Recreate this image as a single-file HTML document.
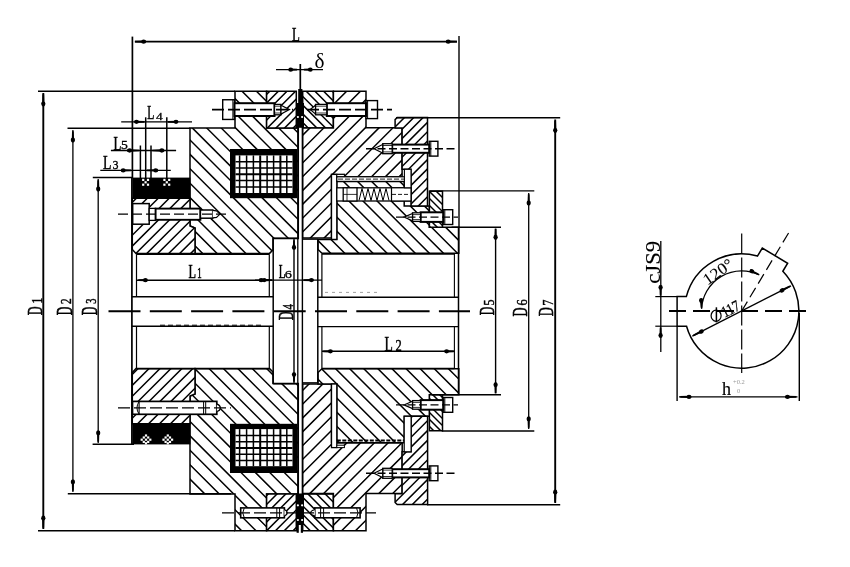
<!DOCTYPE html>
<html><head><meta charset="utf-8"><style>
html,body{margin:0;padding:0;background:#fff;}
svg{display:block;filter:grayscale(1) blur(0.3px);}
</style></head><body>
<svg width="850" height="567" viewBox="0 0 850 567">
<defs><clipPath id="c1"><polygon points="190.00,128.00 235.00,128.00 235.00,91.30 266.60,91.30 266.60,128.00 298.30,128.00 298.30,238.50 273.00,238.50 273.00,250.00 269.50,253.40 195.00,253.40 195.00,228.00 190.00,226.00"/></clipPath><clipPath id="c2"><polygon points="190.00,494.00 235.00,494.00 235.00,530.70 266.60,530.70 266.60,494.00 298.30,494.00 298.30,383.50 273.00,383.50 273.00,372.00 269.50,368.60 195.00,368.60 195.00,394.00 190.00,396.00"/></clipPath><clipPath id="c3"><polygon points="132.30,198.30 190.00,198.30 190.00,226.00 195.00,228.00 195.00,253.40 136.00,253.40 132.30,249.50"/></clipPath><clipPath id="c4"><polygon points="132.30,423.70 190.00,423.70 190.00,396.00 195.00,394.00 195.00,368.60 136.00,368.60 132.30,372.50"/></clipPath><clipPath id="c5"><polygon points="266.60,91.30 296.30,91.30 296.30,128.00 266.60,128.00"/></clipPath><clipPath id="c6"><polygon points="302.70,91.30 333.40,91.30 333.40,128.00 302.70,128.00"/></clipPath><clipPath id="c7"><polygon points="266.60,530.70 296.30,530.70 296.30,494.00 266.60,494.00"/></clipPath><clipPath id="c8"><polygon points="302.70,530.70 333.40,530.70 333.40,494.00 302.70,494.00"/></clipPath><clipPath id="c9"><polygon points="302.70,128.00 333.40,128.00 333.40,91.30 366.00,91.30 366.00,127.80 402.10,127.80 402.10,176.80 344.40,176.80 344.40,174.40 331.50,174.40 331.50,238.00 302.70,238.00"/></clipPath><clipPath id="c10"><polygon points="302.70,384.00 331.50,384.00 331.50,442.70 402.20,442.70 402.20,493.50 366.00,493.50 366.00,530.70 333.40,530.70 333.40,493.50 302.70,493.50"/></clipPath><clipPath id="c11"><polygon points="336.80,181.40 404.20,181.40 404.20,205.90 429.40,205.90 429.40,227.20 458.80,227.20 458.80,253.30 322.00,253.30 318.00,249.50 318.00,239.40 336.80,239.40"/></clipPath><clipPath id="c12"><polygon points="322.00,368.70 458.80,368.70 458.80,394.80 429.60,394.80 429.60,416.30 404.20,416.30 404.20,442.70 336.80,442.70 336.80,384.00 318.00,384.00 318.00,372.50"/></clipPath><clipPath id="c13"><polygon points="397.20,117.50 427.50,117.50 427.50,205.90 411.00,205.90 411.00,169.30 402.10,169.30 402.10,127.90 395.10,127.90 395.10,119.60"/></clipPath><clipPath id="c14"><polygon points="397.20,504.60 427.60,504.60 427.60,416.30 411.10,416.30 411.10,451.80 402.10,451.80 402.10,493.80 395.10,493.80 395.10,502.50"/></clipPath><clipPath id="c15"><polygon points="429.40,191.30 442.50,191.30 442.50,227.20 429.40,227.20"/></clipPath><clipPath id="c16"><polygon points="429.40,430.70 442.50,430.70 442.50,394.80 429.40,394.80"/></clipPath></defs>
<rect width="850" height="567" fill="#fff"/>
<polygon points="190.00,128.00 235.00,128.00 235.00,91.30 266.60,91.30 266.60,128.00 298.30,128.00 298.30,238.50 273.00,238.50 273.00,250.00 269.50,253.40 195.00,253.40 195.00,228.00 190.00,226.00" fill="#fff"/>
<path d="M9.70,89.30L175.80,255.40M24.10,89.30L190.20,255.40M38.50,89.30L204.60,255.40M52.90,89.30L219.00,255.40M67.30,89.30L233.40,255.40M81.70,89.30L247.80,255.40M96.10,89.30L262.20,255.40M110.50,89.30L276.60,255.40M124.90,89.30L291.00,255.40M139.30,89.30L305.40,255.40M153.70,89.30L319.80,255.40M168.10,89.30L334.20,255.40M182.50,89.30L348.60,255.40M196.90,89.30L363.00,255.40M211.30,89.30L377.40,255.40M225.70,89.30L391.80,255.40M240.10,89.30L406.20,255.40M254.50,89.30L420.60,255.40M268.90,89.30L435.00,255.40M283.30,89.30L449.40,255.40M297.70,89.30L463.80,255.40" stroke="#000" stroke-width="1.5" fill="none" clip-path="url(#c1)"/>
<polygon points="190.00,128.00 235.00,128.00 235.00,91.30 266.60,91.30 266.60,128.00 298.30,128.00 298.30,238.50 273.00,238.50 273.00,250.00 269.50,253.40 195.00,253.40 195.00,228.00 190.00,226.00" fill="none" stroke="#000" stroke-width="1.5"/>
<polygon points="190.00,494.00 235.00,494.00 235.00,530.70 266.60,530.70 266.60,494.00 298.30,494.00 298.30,383.50 273.00,383.50 273.00,372.00 269.50,368.60 195.00,368.60 195.00,394.00 190.00,396.00" fill="#fff"/>
<path d="M19.90,366.60L186.00,532.70M34.30,366.60L200.40,532.70M48.70,366.60L214.80,532.70M63.10,366.60L229.20,532.70M77.50,366.60L243.60,532.70M91.90,366.60L258.00,532.70M106.30,366.60L272.40,532.70M120.70,366.60L286.80,532.70M135.10,366.60L301.20,532.70M149.50,366.60L315.60,532.70M163.90,366.60L330.00,532.70M178.30,366.60L344.40,532.70M192.70,366.60L358.80,532.70M207.10,366.60L373.20,532.70M221.50,366.60L387.60,532.70M235.90,366.60L402.00,532.70M250.30,366.60L416.40,532.70M264.70,366.60L430.80,532.70M279.10,366.60L445.20,532.70M293.50,366.60L459.60,532.70" stroke="#000" stroke-width="1.5" fill="none" clip-path="url(#c2)"/>
<polygon points="190.00,494.00 235.00,494.00 235.00,530.70 266.60,530.70 266.60,494.00 298.30,494.00 298.30,383.50 273.00,383.50 273.00,372.00 269.50,368.60 195.00,368.60 195.00,394.00 190.00,396.00" fill="none" stroke="#000" stroke-width="1.5"/>
<polygon points="132.30,198.30 190.00,198.30 190.00,226.00 195.00,228.00 195.00,253.40 136.00,253.40 132.30,249.50" fill="#fff"/>
<path d="M127.35,196.30L68.25,255.40M138.30,196.30L79.20,255.40M149.25,196.30L90.15,255.40M160.20,196.30L101.10,255.40M171.15,196.30L112.05,255.40M182.10,196.30L123.00,255.40M193.05,196.30L133.95,255.40M204.00,196.30L144.90,255.40M214.95,196.30L155.85,255.40M225.90,196.30L166.80,255.40M236.85,196.30L177.75,255.40M247.80,196.30L188.70,255.40" stroke="#000" stroke-width="1.5" fill="none" clip-path="url(#c3)"/>
<polygon points="132.30,198.30 190.00,198.30 190.00,226.00 195.00,228.00 195.00,253.40 136.00,253.40 132.30,249.50" fill="none" stroke="#000" stroke-width="1.5"/>
<polygon points="132.30,423.70 190.00,423.70 190.00,396.00 195.00,394.00 195.00,368.60 136.00,368.60 132.30,372.50" fill="#fff"/>
<path d="M129.10,366.60L70.00,425.70M140.05,366.60L80.95,425.70M151.00,366.60L91.90,425.70M161.95,366.60L102.85,425.70M172.90,366.60L113.80,425.70M183.85,366.60L124.75,425.70M194.80,366.60L135.70,425.70M205.75,366.60L146.65,425.70M216.70,366.60L157.60,425.70M227.65,366.60L168.55,425.70M238.60,366.60L179.50,425.70M249.55,366.60L190.45,425.70" stroke="#000" stroke-width="1.5" fill="none" clip-path="url(#c4)"/>
<polygon points="132.30,423.70 190.00,423.70 190.00,396.00 195.00,394.00 195.00,368.60 136.00,368.60 132.30,372.50" fill="none" stroke="#000" stroke-width="1.5"/>
<polygon points="266.60,91.30 296.30,91.30 296.30,128.00 266.60,128.00" fill="#fff"/>
<path d="M263.10,89.30L222.40,130.00M271.70,89.30L231.00,130.00M280.30,89.30L239.60,130.00M288.90,89.30L248.20,130.00M297.50,89.30L256.80,130.00M306.10,89.30L265.40,130.00M314.70,89.30L274.00,130.00M323.30,89.30L282.60,130.00M331.90,89.30L291.20,130.00" stroke="#000" stroke-width="1.5" fill="none" clip-path="url(#c5)"/>
<polygon points="266.60,91.30 296.30,91.30 296.30,128.00 266.60,128.00" fill="none" stroke="#000" stroke-width="1.5"/>
<polygon points="302.70,91.30 333.40,91.30 333.40,128.00 302.70,128.00" fill="#fff"/>
<path d="M252.10,89.30L292.80,130.00M260.80,89.30L301.50,130.00M269.50,89.30L310.20,130.00M278.20,89.30L318.90,130.00M286.90,89.30L327.60,130.00M295.60,89.30L336.30,130.00M304.30,89.30L345.00,130.00M313.00,89.30L353.70,130.00M321.70,89.30L362.40,130.00M330.40,89.30L371.10,130.00" stroke="#000" stroke-width="1.5" fill="none" clip-path="url(#c6)"/>
<polygon points="302.70,91.30 333.40,91.30 333.40,128.00 302.70,128.00" fill="none" stroke="#000" stroke-width="1.5"/>
<polygon points="266.60,530.70 296.30,530.70 296.30,494.00 266.60,494.00" fill="#fff"/>
<path d="M261.40,492.00L220.70,532.70M270.20,492.00L229.50,532.70M279.00,492.00L238.30,532.70M287.80,492.00L247.10,532.70M296.60,492.00L255.90,532.70M305.40,492.00L264.70,532.70M314.20,492.00L273.50,532.70M323.00,492.00L282.30,532.70M331.80,492.00L291.10,532.70" stroke="#000" stroke-width="1.5" fill="none" clip-path="url(#c7)"/>
<polygon points="266.60,530.70 296.30,530.70 296.30,494.00 266.60,494.00" fill="none" stroke="#000" stroke-width="1.5"/>
<polygon points="302.70,530.70 333.40,530.70 333.40,494.00 302.70,494.00" fill="#fff"/>
<path d="M254.40,492.00L295.10,532.70M263.00,492.00L303.70,532.70M271.60,492.00L312.30,532.70M280.20,492.00L320.90,532.70M288.80,492.00L329.50,532.70M297.40,492.00L338.10,532.70M306.00,492.00L346.70,532.70M314.60,492.00L355.30,532.70M323.20,492.00L363.90,532.70M331.80,492.00L372.50,532.70" stroke="#000" stroke-width="1.5" fill="none" clip-path="url(#c8)"/>
<polygon points="302.70,530.70 333.40,530.70 333.40,494.00 302.70,494.00" fill="none" stroke="#000" stroke-width="1.5"/>
<polygon points="302.70,128.00 333.40,128.00 333.40,91.30 366.00,91.30 366.00,127.80 402.10,127.80 402.10,176.80 344.40,176.80 344.40,174.40 331.50,174.40 331.50,238.00 302.70,238.00" fill="#fff"/>
<path d="M293.40,89.30L142.70,240.00M307.20,89.30L156.50,240.00M321.00,89.30L170.30,240.00M334.80,89.30L184.10,240.00M348.60,89.30L197.90,240.00M362.40,89.30L211.70,240.00M376.20,89.30L225.50,240.00M390.00,89.30L239.30,240.00M403.80,89.30L253.10,240.00M417.60,89.30L266.90,240.00M431.40,89.30L280.70,240.00M445.20,89.30L294.50,240.00M459.00,89.30L308.30,240.00M472.80,89.30L322.10,240.00M486.60,89.30L335.90,240.00M500.40,89.30L349.70,240.00M514.20,89.30L363.50,240.00M528.00,89.30L377.30,240.00M541.80,89.30L391.10,240.00" stroke="#000" stroke-width="1.5" fill="none" clip-path="url(#c9)"/>
<polygon points="302.70,128.00 333.40,128.00 333.40,91.30 366.00,91.30 366.00,127.80 402.10,127.80 402.10,176.80 344.40,176.80 344.40,174.40 331.50,174.40 331.50,238.00 302.70,238.00" fill="none" stroke="#000" stroke-width="1.5"/>
<polygon points="302.70,384.00 331.50,384.00 331.50,442.70 402.20,442.70 402.20,493.50 366.00,493.50 366.00,530.70 333.40,530.70 333.40,493.50 302.70,493.50" fill="#fff"/>
<path d="M297.20,382.00L146.50,532.70M311.00,382.00L160.30,532.70M324.80,382.00L174.10,532.70M338.60,382.00L187.90,532.70M352.40,382.00L201.70,532.70M366.20,382.00L215.50,532.70M380.00,382.00L229.30,532.70M393.80,382.00L243.10,532.70M407.60,382.00L256.90,532.70M421.40,382.00L270.70,532.70M435.20,382.00L284.50,532.70M449.00,382.00L298.30,532.70M462.80,382.00L312.10,532.70M476.60,382.00L325.90,532.70M490.40,382.00L339.70,532.70M504.20,382.00L353.50,532.70M518.00,382.00L367.30,532.70M531.80,382.00L381.10,532.70M545.60,382.00L394.90,532.70" stroke="#000" stroke-width="1.5" fill="none" clip-path="url(#c10)"/>
<polygon points="302.70,384.00 331.50,384.00 331.50,442.70 402.20,442.70 402.20,493.50 366.00,493.50 366.00,530.70 333.40,530.70 333.40,493.50 302.70,493.50" fill="none" stroke="#000" stroke-width="1.5"/>
<polygon points="336.80,181.40 404.20,181.40 404.20,205.90 429.40,205.90 429.40,227.20 458.80,227.20 458.80,253.30 322.00,253.30 318.00,249.50 318.00,239.40 336.80,239.40" fill="#fff"/>
<path d="M228.60,179.40L304.50,255.30M242.70,179.40L318.60,255.30M256.80,179.40L332.70,255.30M270.90,179.40L346.80,255.30M285.00,179.40L360.90,255.30M299.10,179.40L375.00,255.30M313.20,179.40L389.10,255.30M327.30,179.40L403.20,255.30M341.40,179.40L417.30,255.30M355.50,179.40L431.40,255.30M369.60,179.40L445.50,255.30M383.70,179.40L459.60,255.30M397.80,179.40L473.70,255.30M411.90,179.40L487.80,255.30M426.00,179.40L501.90,255.30M440.10,179.40L516.00,255.30M454.20,179.40L530.10,255.30" stroke="#000" stroke-width="1.5" fill="none" clip-path="url(#c11)"/>
<polygon points="336.80,181.40 404.20,181.40 404.20,205.90 429.40,205.90 429.40,227.20 458.80,227.20 458.80,253.30 322.00,253.30 318.00,249.50 318.00,239.40 336.80,239.40" fill="none" stroke="#000" stroke-width="1.5"/>
<polygon points="322.00,368.70 458.80,368.70 458.80,394.80 429.60,394.80 429.60,416.30 404.20,416.30 404.20,442.70 336.80,442.70 336.80,384.00 318.00,384.00 318.00,372.50" fill="#fff"/>
<path d="M234.90,366.70L312.90,444.70M249.00,366.70L327.00,444.70M263.10,366.70L341.10,444.70M277.20,366.70L355.20,444.70M291.30,366.70L369.30,444.70M305.40,366.70L383.40,444.70M319.50,366.70L397.50,444.70M333.60,366.70L411.60,444.70M347.70,366.70L425.70,444.70M361.80,366.70L439.80,444.70M375.90,366.70L453.90,444.70M390.00,366.70L468.00,444.70M404.10,366.70L482.10,444.70M418.20,366.70L496.20,444.70M432.30,366.70L510.30,444.70M446.40,366.70L524.40,444.70M460.50,366.70L538.50,444.70" stroke="#000" stroke-width="1.5" fill="none" clip-path="url(#c12)"/>
<polygon points="322.00,368.70 458.80,368.70 458.80,394.80 429.60,394.80 429.60,416.30 404.20,416.30 404.20,442.70 336.80,442.70 336.80,384.00 318.00,384.00 318.00,372.50" fill="none" stroke="#000" stroke-width="1.5"/>
<polygon points="397.20,117.50 427.50,117.50 427.50,205.90 411.00,205.90 411.00,169.30 402.10,169.30 402.10,127.90 395.10,127.90 395.10,119.60" fill="#fff"/>
<path d="M387.90,115.50L295.50,207.90M397.20,115.50L304.80,207.90M406.50,115.50L314.10,207.90M415.80,115.50L323.40,207.90M425.10,115.50L332.70,207.90M434.40,115.50L342.00,207.90M443.70,115.50L351.30,207.90M453.00,115.50L360.60,207.90M462.30,115.50L369.90,207.90M471.60,115.50L379.20,207.90M480.90,115.50L388.50,207.90M490.20,115.50L397.80,207.90M499.50,115.50L407.10,207.90M508.80,115.50L416.40,207.90M518.10,115.50L425.70,207.90" stroke="#000" stroke-width="1.5" fill="none" clip-path="url(#c13)"/>
<polygon points="397.20,117.50 427.50,117.50 427.50,205.90 411.00,205.90 411.00,169.30 402.10,169.30 402.10,127.90 395.10,127.90 395.10,119.60" fill="none" stroke="#000" stroke-width="1.5"/>
<polygon points="397.20,504.60 427.60,504.60 427.60,416.30 411.10,416.30 411.10,451.80 402.10,451.80 402.10,493.80 395.10,493.80 395.10,502.50" fill="#fff"/>
<path d="M385.00,414.30L292.70,506.60M394.80,414.30L302.50,506.60M404.60,414.30L312.30,506.60M414.40,414.30L322.10,506.60M424.20,414.30L331.90,506.60M434.00,414.30L341.70,506.60M443.80,414.30L351.50,506.60M453.60,414.30L361.30,506.60M463.40,414.30L371.10,506.60M473.20,414.30L380.90,506.60M483.00,414.30L390.70,506.60M492.80,414.30L400.50,506.60M502.60,414.30L410.30,506.60M512.40,414.30L420.10,506.60" stroke="#000" stroke-width="1.5" fill="none" clip-path="url(#c14)"/>
<polygon points="397.20,504.60 427.60,504.60 427.60,416.30 411.10,416.30 411.10,451.80 402.10,451.80 402.10,493.80 395.10,493.80 395.10,502.50" fill="none" stroke="#000" stroke-width="1.5"/>
<polygon points="429.40,191.30 442.50,191.30 442.50,227.20 429.40,227.20" fill="#fff"/>
<path d="M385.30,189.30L425.20,229.20M392.30,189.30L432.20,229.20M399.30,189.30L439.20,229.20M406.30,189.30L446.20,229.20M413.30,189.30L453.20,229.20M420.30,189.30L460.20,229.20M427.30,189.30L467.20,229.20M434.30,189.30L474.20,229.20M441.30,189.30L481.20,229.20" stroke="#000" stroke-width="1.5" fill="none" clip-path="url(#c15)"/>
<polygon points="429.40,191.30 442.50,191.30 442.50,227.20 429.40,227.20" fill="none" stroke="#000" stroke-width="1.5"/>
<polygon points="429.40,430.70 442.50,430.70 442.50,394.80 429.40,394.80" fill="#fff"/>
<path d="M381.80,392.80L421.70,432.70M388.80,392.80L428.70,432.70M395.80,392.80L435.70,432.70M402.80,392.80L442.70,432.70M409.80,392.80L449.70,432.70M416.80,392.80L456.70,432.70M423.80,392.80L463.70,432.70M430.80,392.80L470.70,432.70M437.80,392.80L477.70,432.70" stroke="#000" stroke-width="1.5" fill="none" clip-path="url(#c16)"/>
<polygon points="429.40,430.70 442.50,430.70 442.50,394.80 429.40,394.80" fill="none" stroke="#000" stroke-width="1.5"/>
<rect x="132.80" y="178.00" width="57.20" height="20.30" fill="#000" stroke="#000" stroke-width="0.8" />
<rect x="142.10" y="178.80" width="2.2" height="2.2" fill="#fff"/>
<rect x="146.90" y="178.80" width="2.2" height="2.2" fill="#fff"/>
<rect x="144.50" y="181.20" width="2.2" height="2.2" fill="#fff"/>
<rect x="142.10" y="183.60" width="2.2" height="2.2" fill="#fff"/>
<rect x="146.90" y="183.60" width="2.2" height="2.2" fill="#fff"/>
<rect x="163.30" y="178.80" width="2.2" height="2.2" fill="#fff"/>
<rect x="168.10" y="178.80" width="2.2" height="2.2" fill="#fff"/>
<rect x="165.70" y="181.20" width="2.2" height="2.2" fill="#fff"/>
<rect x="163.30" y="183.60" width="2.2" height="2.2" fill="#fff"/>
<rect x="168.10" y="183.60" width="2.2" height="2.2" fill="#fff"/>
<rect x="132.80" y="423.70" width="57.20" height="20.30" fill="#000" stroke="#000" stroke-width="0.8" />
<rect x="142.70" y="436.40" width="2.2" height="2.2" fill="#fff"/>
<rect x="147.10" y="436.40" width="2.2" height="2.2" fill="#fff"/>
<rect x="144.90" y="438.60" width="2.2" height="2.2" fill="#fff"/>
<rect x="142.70" y="440.80" width="2.2" height="2.2" fill="#fff"/>
<rect x="147.10" y="440.80" width="2.2" height="2.2" fill="#fff"/>
<rect x="140.60" y="438.60" width="2.2" height="2.2" fill="#fff"/>
<rect x="149.20" y="438.60" width="2.2" height="2.2" fill="#fff"/>
<rect x="144.90" y="434.40" width="2.2" height="2.2" fill="#fff"/>
<rect x="144.90" y="442.20" width="2.2" height="2.2" fill="#fff"/>
<rect x="164.50" y="436.40" width="2.2" height="2.2" fill="#fff"/>
<rect x="168.90" y="436.40" width="2.2" height="2.2" fill="#fff"/>
<rect x="166.70" y="438.60" width="2.2" height="2.2" fill="#fff"/>
<rect x="164.50" y="440.80" width="2.2" height="2.2" fill="#fff"/>
<rect x="168.90" y="440.80" width="2.2" height="2.2" fill="#fff"/>
<rect x="162.40" y="438.60" width="2.2" height="2.2" fill="#fff"/>
<rect x="171.00" y="438.60" width="2.2" height="2.2" fill="#fff"/>
<rect x="166.70" y="434.40" width="2.2" height="2.2" fill="#fff"/>
<rect x="166.70" y="442.20" width="2.2" height="2.2" fill="#fff"/>
<rect x="230.00" y="149.00" width="67.20" height="49.20" fill="#000" stroke="#000" stroke-width="0" />
<rect x="235.50" y="155.40" width="57.00" height="37.60" fill="#fff" stroke="#000" stroke-width="0" />
<line x1="239.60" y1="155.40" x2="239.60" y2="193.00" stroke="#000" stroke-width="1.5" />
<line x1="246.60" y1="155.40" x2="246.60" y2="193.00" stroke="#000" stroke-width="1.5" />
<line x1="253.40" y1="155.40" x2="253.40" y2="193.00" stroke="#000" stroke-width="1.5" />
<line x1="260.20" y1="155.40" x2="260.20" y2="193.00" stroke="#000" stroke-width="2.0" />
<line x1="267.10" y1="155.40" x2="267.10" y2="193.00" stroke="#000" stroke-width="1.5" />
<line x1="273.60" y1="155.40" x2="273.60" y2="193.00" stroke="#000" stroke-width="1.5" />
<line x1="280.40" y1="155.40" x2="280.40" y2="193.00" stroke="#000" stroke-width="2.0" />
<line x1="286.80" y1="155.40" x2="286.80" y2="193.00" stroke="#000" stroke-width="1.5" />
<line x1="235.50" y1="161.70" x2="292.50" y2="161.70" stroke="#000" stroke-width="1.5" />
<line x1="235.50" y1="168.00" x2="292.50" y2="168.00" stroke="#000" stroke-width="1.5" />
<line x1="235.50" y1="174.30" x2="292.50" y2="174.30" stroke="#000" stroke-width="1.9" />
<line x1="235.50" y1="180.60" x2="292.50" y2="180.60" stroke="#000" stroke-width="1.5" />
<line x1="235.50" y1="186.90" x2="292.50" y2="186.90" stroke="#000" stroke-width="1.5" />
<rect x="230.00" y="423.80" width="67.20" height="49.20" fill="#000" stroke="#000" stroke-width="0" />
<rect x="235.50" y="429.10" width="57.00" height="37.10" fill="#fff" stroke="#000" stroke-width="0" />
<line x1="239.60" y1="429.10" x2="239.60" y2="466.20" stroke="#000" stroke-width="1.5" />
<line x1="246.60" y1="429.10" x2="246.60" y2="466.20" stroke="#000" stroke-width="1.5" />
<line x1="253.40" y1="429.10" x2="253.40" y2="466.20" stroke="#000" stroke-width="1.5" />
<line x1="260.20" y1="429.10" x2="260.20" y2="466.20" stroke="#000" stroke-width="2.0" />
<line x1="267.10" y1="429.10" x2="267.10" y2="466.20" stroke="#000" stroke-width="1.5" />
<line x1="273.60" y1="429.10" x2="273.60" y2="466.20" stroke="#000" stroke-width="1.5" />
<line x1="280.40" y1="429.10" x2="280.40" y2="466.20" stroke="#000" stroke-width="2.0" />
<line x1="286.80" y1="429.10" x2="286.80" y2="466.20" stroke="#000" stroke-width="1.5" />
<line x1="235.50" y1="435.40" x2="292.50" y2="435.40" stroke="#000" stroke-width="1.5" />
<line x1="235.50" y1="441.70" x2="292.50" y2="441.70" stroke="#000" stroke-width="1.5" />
<line x1="235.50" y1="448.00" x2="292.50" y2="448.00" stroke="#000" stroke-width="1.9" />
<line x1="235.50" y1="454.30" x2="292.50" y2="454.30" stroke="#000" stroke-width="1.5" />
<line x1="235.50" y1="460.60" x2="292.50" y2="460.60" stroke="#000" stroke-width="1.5" />
<line x1="297.80" y1="127.00" x2="297.80" y2="494.00" stroke="#000" stroke-width="1.3" />
<line x1="302.40" y1="127.00" x2="302.40" y2="494.00" stroke="#000" stroke-width="1.4" />
<rect x="298.20" y="89.00" width="4.20" height="14.50" fill="#000" stroke="#000" stroke-width="0" />
<rect x="296.10" y="103.00" width="7.90" height="24.80" fill="#000" stroke="#000" stroke-width="0" />
<rect x="296.10" y="493.50" width="7.90" height="31.50" fill="#000" stroke="#000" stroke-width="0" />
<rect x="296.60" y="524.00" width="2.20" height="8.80" fill="#000" stroke="#000" stroke-width="0" />
<rect x="300.80" y="524.00" width="2.20" height="8.80" fill="#000" stroke="#000" stroke-width="0" />
<circle cx="297.9" cy="117" r="1.1" fill="#fff"/>
<circle cx="302.1" cy="117" r="1.1" fill="#fff"/>
<circle cx="297.9" cy="505.3" r="1.1" fill="#fff"/>
<circle cx="302.1" cy="505.3" r="1.1" fill="#fff"/>
<circle cx="297.9" cy="520" r="1.1" fill="#fff"/>
<circle cx="302.1" cy="520" r="1.1" fill="#fff"/>
<line x1="300.30" y1="64.00" x2="300.30" y2="89.00" stroke="#000" stroke-width="1.7" />
<rect x="222.70" y="99.75" width="11.80" height="19.70" fill="#fff" stroke="#000" stroke-width="1.4" />
<line x1="232.90" y1="99.75" x2="232.90" y2="119.45" stroke="#000" stroke-width="1.0" />
<rect x="234.50" y="103.20" width="40.00" height="12.80" fill="#fff" stroke="#000" stroke-width="2.0" />
<rect x="274.50" y="104.40" width="6.50" height="10.40" fill="#fff" stroke="#000" stroke-width="1.3" />
<line x1="274.50" y1="106.20" x2="281.00" y2="106.20" stroke="#000" stroke-width="0.8" />
<line x1="274.50" y1="113.00" x2="281.00" y2="113.00" stroke="#000" stroke-width="0.8" />
<polygon points="281.00,105.18 289.50,109.60 281.00,114.02" fill="#fff" stroke="#000" stroke-width="1.2"/>
<rect x="366.00" y="100.60" width="11.50" height="18.00" fill="#fff" stroke="#000" stroke-width="1.4" />
<line x1="367.60" y1="100.60" x2="367.60" y2="118.60" stroke="#000" stroke-width="1.0" />
<rect x="326.80" y="103.20" width="39.20" height="12.80" fill="#fff" stroke="#000" stroke-width="2.0" />
<rect x="315.50" y="104.40" width="11.30" height="10.40" fill="#fff" stroke="#000" stroke-width="1.3" />
<line x1="326.80" y1="106.20" x2="315.50" y2="106.20" stroke="#000" stroke-width="0.8" />
<line x1="326.80" y1="113.00" x2="315.50" y2="113.00" stroke="#000" stroke-width="0.8" />
<polygon points="315.50,105.18 310.20,109.60 315.50,114.02" fill="#fff" stroke="#000" stroke-width="1.2"/>
<line x1="212.00" y1="109.60" x2="293.00" y2="109.60" stroke="#000" stroke-width="1.7" stroke-dasharray="12,4"/>
<line x1="307.00" y1="109.60" x2="392.00" y2="109.60" stroke="#000" stroke-width="1.7" stroke-dasharray="12,4"/>
<rect x="132.70" y="203.60" width="16.50" height="20.60" fill="#fff" stroke="#000" stroke-width="1.5" />
<rect x="149.20" y="208.40" width="6.40" height="12.00" fill="#fff" stroke="#000" stroke-width="1.3" />
<rect x="155.60" y="208.60" width="44.80" height="11.20" fill="#fff" stroke="#000" stroke-width="1.9" />
<rect x="200.40" y="210.00" width="12.30" height="8.20" fill="#fff" stroke="#000" stroke-width="1.5" />
<path d="M212.7,210.4 L216.5,210.8 L220,214.1 L216.5,217.4 L212.7,217.8" fill="#fff" stroke="#000" stroke-width="1.2"/>
<line x1="118.00" y1="214.10" x2="226.00" y2="214.10" stroke="#000" stroke-width="1.4" stroke-dasharray="10,4"/>
<rect x="429.20" y="141.30" width="8.70" height="14.80" fill="#fff" stroke="#000" stroke-width="1.4" />
<line x1="430.80" y1="141.30" x2="430.80" y2="156.10" stroke="#000" stroke-width="1.0" />
<rect x="392.20" y="144.60" width="37.00" height="8.20" fill="#fff" stroke="#000" stroke-width="2.0" />
<rect x="382.70" y="143.70" width="9.50" height="10.00" fill="#fff" stroke="#000" stroke-width="1.3" />
<line x1="392.20" y1="145.50" x2="382.70" y2="145.50" stroke="#000" stroke-width="0.8" />
<line x1="392.20" y1="151.90" x2="382.70" y2="151.90" stroke="#000" stroke-width="0.8" />
<polygon points="382.70,144.45 374.00,148.70 382.70,152.95" fill="#fff" stroke="#000" stroke-width="1.2"/>
<line x1="366.00" y1="148.70" x2="458.00" y2="148.70" stroke="#000" stroke-width="1.4" stroke-dasharray="8,3.5"/>
<rect x="443.20" y="209.70" width="9.50" height="14.80" fill="#fff" stroke="#000" stroke-width="1.4" />
<line x1="444.80" y1="209.70" x2="444.80" y2="224.50" stroke="#000" stroke-width="1.0" />
<rect x="420.60" y="212.30" width="22.60" height="9.60" fill="#fff" stroke="#000" stroke-width="2.0" />
<rect x="412.50" y="212.80" width="8.10" height="8.60" fill="#fff" stroke="#000" stroke-width="1.3" />
<line x1="420.60" y1="214.60" x2="412.50" y2="214.60" stroke="#000" stroke-width="0.8" />
<line x1="420.60" y1="219.60" x2="412.50" y2="219.60" stroke="#000" stroke-width="0.8" />
<polygon points="412.50,213.44 404.00,217.10 412.50,220.75" fill="#fff" stroke="#000" stroke-width="1.2"/>
<line x1="396.00" y1="217.10" x2="458.00" y2="217.10" stroke="#000" stroke-width="1.4" stroke-dasharray="8,3.5"/>
<rect x="429.20" y="465.90" width="8.70" height="14.80" fill="#fff" stroke="#000" stroke-width="1.4" />
<line x1="430.80" y1="465.90" x2="430.80" y2="480.70" stroke="#000" stroke-width="1.0" />
<rect x="392.20" y="469.20" width="37.00" height="8.20" fill="#fff" stroke="#000" stroke-width="2.0" />
<rect x="382.70" y="468.30" width="9.50" height="10.00" fill="#fff" stroke="#000" stroke-width="1.3" />
<line x1="392.20" y1="470.10" x2="382.70" y2="470.10" stroke="#000" stroke-width="0.8" />
<line x1="392.20" y1="476.50" x2="382.70" y2="476.50" stroke="#000" stroke-width="0.8" />
<polygon points="382.70,469.05 374.00,473.30 382.70,477.55" fill="#fff" stroke="#000" stroke-width="1.2"/>
<line x1="366.00" y1="473.30" x2="458.00" y2="473.30" stroke="#000" stroke-width="1.4" stroke-dasharray="8,3.5"/>
<rect x="443.20" y="397.50" width="9.50" height="14.80" fill="#fff" stroke="#000" stroke-width="1.4" />
<line x1="444.80" y1="397.50" x2="444.80" y2="412.30" stroke="#000" stroke-width="1.0" />
<rect x="420.60" y="400.10" width="22.60" height="9.60" fill="#fff" stroke="#000" stroke-width="2.0" />
<rect x="412.50" y="400.60" width="8.10" height="8.60" fill="#fff" stroke="#000" stroke-width="1.3" />
<line x1="420.60" y1="402.40" x2="412.50" y2="402.40" stroke="#000" stroke-width="0.8" />
<line x1="420.60" y1="407.40" x2="412.50" y2="407.40" stroke="#000" stroke-width="0.8" />
<polygon points="412.50,401.25 404.00,404.90 412.50,408.55" fill="#fff" stroke="#000" stroke-width="1.2"/>
<line x1="396.00" y1="404.90" x2="458.00" y2="404.90" stroke="#000" stroke-width="1.4" stroke-dasharray="8,3.5"/>
<rect x="132.50" y="401.40" width="84.30" height="12.90" fill="#fff" stroke="#000" stroke-width="1.7" />
<path d="M139.1,401.6 Q134.8,407.85 139.1,414.1" fill="none" stroke="#000" stroke-width="1.0"/>
<line x1="139.10" y1="401.40" x2="139.10" y2="414.30" stroke="#000" stroke-width="1.1" />
<line x1="203.60" y1="401.40" x2="203.60" y2="414.30" stroke="#000" stroke-width="1.0" />
<line x1="205.70" y1="401.40" x2="205.70" y2="414.30" stroke="#000" stroke-width="1.0" />
<path d="M216.8,404.2 Q220.2,405 220.4,407.85 Q220.2,410.7 216.8,411.5" fill="#fff" stroke="#000" stroke-width="1.2"/>
<line x1="118.00" y1="407.85" x2="231.00" y2="407.85" stroke="#000" stroke-width="1.3" stroke-dasharray="12,4"/>
<rect x="240.70" y="507.90" width="43.70" height="9.90" fill="#fff" stroke="#000" stroke-width="1.6" />
<path d="M284.40,509.78 Q287.20,510.70 287.20,512.85 Q287.20,515.00 284.40,515.92" fill="#fff" stroke="#000" stroke-width="1.2"/>
<line x1="276.80" y1="507.90" x2="276.80" y2="517.80" stroke="#000" stroke-width="1.0" />
<line x1="279.60" y1="507.90" x2="279.60" y2="517.80" stroke="#000" stroke-width="1.0" />
<path d="M244.20,508.20 Q241.30,512.85 244.20,517.50" fill="none" stroke="#000" stroke-width="1.0"/>
<rect x="314.80" y="507.90" width="45.30" height="9.90" fill="#fff" stroke="#000" stroke-width="1.6" />
<path d="M314.80,509.78 Q310.60,510.70 310.60,512.85 Q310.60,515.00 314.80,515.92" fill="#fff" stroke="#000" stroke-width="1.2"/>
<line x1="320.60" y1="507.90" x2="320.60" y2="517.80" stroke="#000" stroke-width="1.0" />
<line x1="323.60" y1="507.90" x2="323.60" y2="517.80" stroke="#000" stroke-width="1.0" />
<path d="M356.60,508.20 Q359.50,512.85 356.60,517.50" fill="none" stroke="#000" stroke-width="1.0"/>
<line x1="222.00" y1="512.85" x2="376.00" y2="512.85" stroke="#000" stroke-width="1.3" stroke-dasharray="12,4"/>
<rect x="331.50" y="174.40" width="5.30" height="65.00" fill="#fff" stroke="#000" stroke-width="1.3" />
<rect x="336.80" y="174.40" width="7.60" height="2.40" fill="#fff" stroke="#000" stroke-width="1.0" />
<rect x="336.80" y="176.80" width="68.20" height="4.60" fill="#fff" stroke="#000" stroke-width="1.2" />
<line x1="338.00" y1="179.10" x2="404.00" y2="179.10" stroke="#000" stroke-width="0.9" stroke-dasharray="5,2"/>
<rect x="336.80" y="187.80" width="74.20" height="13.20" fill="#fff" stroke="#000" stroke-width="1.3" />
<rect x="343.20" y="187.80" width="13.80" height="13.20" fill="#fff" stroke="#000" stroke-width="1.3" />
<line x1="347.00" y1="187.80" x2="347.00" y2="201.00" stroke="#000" stroke-width="0.8" />
<line x1="343.20" y1="194.40" x2="357.00" y2="194.40" stroke="#000" stroke-width="0.8" />
<polyline points="359.00,200.50 362.00,188.50 365.00,200.50 368.00,188.50 371.00,200.50 374.00,188.50 377.00,200.50 380.00,188.50 383.00,200.50 386.00,188.50 389.00,200.50" fill="none" stroke="#000" stroke-width="1.0" />
<rect x="391.50" y="187.80" width="19.50" height="13.20" fill="#fff" stroke="#000" stroke-width="1.2" />
<line x1="392.00" y1="194.40" x2="410.00" y2="194.40" stroke="#000" stroke-width="0.9" stroke-dasharray="4,2"/>
<rect x="404.40" y="169.30" width="6.60" height="18.50" fill="#fff" stroke="#000" stroke-width="1.1" />
<rect x="331.50" y="384.00" width="5.30" height="63.60" fill="#fff" stroke="#000" stroke-width="1.3" />
<rect x="336.80" y="445.20" width="7.60" height="2.40" fill="#fff" stroke="#000" stroke-width="1.0" />
<line x1="336.8" y1="440.6" x2="404.2" y2="440.6" stroke="#000" stroke-width="2.0" stroke-dasharray="4,1.5"/>
<rect x="404.20" y="416.30" width="6.90" height="35.50" fill="#fff" stroke="#000" stroke-width="1.2" />
<line x1="131.90" y1="178.00" x2="131.90" y2="444.30" stroke="#000" stroke-width="1.7" />
<line x1="136.50" y1="254.20" x2="136.50" y2="296.70" stroke="#000" stroke-width="1.2" />
<line x1="269.30" y1="254.20" x2="269.30" y2="296.70" stroke="#000" stroke-width="1.2" />
<line x1="136.50" y1="326.30" x2="136.50" y2="368.80" stroke="#000" stroke-width="1.2" />
<line x1="269.30" y1="326.30" x2="269.30" y2="368.80" stroke="#000" stroke-width="1.2" />
<line x1="131.90" y1="296.70" x2="273.20" y2="296.70" stroke="#000" stroke-width="1.5" />
<line x1="131.90" y1="326.30" x2="273.20" y2="326.30" stroke="#000" stroke-width="1.4" />
<line x1="160" y1="325.2" x2="262" y2="325.2" stroke="#000" stroke-width="1.0" stroke-dasharray="5,3"/>
<line x1="273.20" y1="238.20" x2="273.20" y2="383.80" stroke="#000" stroke-width="1.5" />
<line x1="273.20" y1="238.20" x2="298.00" y2="238.20" stroke="#000" stroke-width="1.4" />
<line x1="273.20" y1="383.80" x2="298.00" y2="383.80" stroke="#000" stroke-width="1.4" />
<line x1="136.50" y1="254.20" x2="269.30" y2="254.20" stroke="#000" stroke-width="1.5" />
<line x1="136.50" y1="368.80" x2="269.30" y2="368.80" stroke="#000" stroke-width="1.5" />
<line x1="317.80" y1="239.20" x2="317.80" y2="382.80" stroke="#000" stroke-width="1.5" />
<line x1="321.90" y1="254.10" x2="321.90" y2="297.30" stroke="#000" stroke-width="1.2" />
<line x1="454.40" y1="254.10" x2="454.40" y2="297.30" stroke="#000" stroke-width="1.1" />
<line x1="321.90" y1="326.60" x2="321.90" y2="368.40" stroke="#000" stroke-width="1.2" />
<line x1="454.40" y1="326.60" x2="454.40" y2="368.40" stroke="#000" stroke-width="1.1" />
<line x1="302.20" y1="239.20" x2="317.80" y2="239.20" stroke="#000" stroke-width="1.3" />
<line x1="302.20" y1="382.80" x2="317.80" y2="382.80" stroke="#000" stroke-width="1.3" />
<line x1="321.90" y1="254.10" x2="454.40" y2="254.10" stroke="#000" stroke-width="1.5" />
<line x1="321.90" y1="368.40" x2="454.40" y2="368.40" stroke="#000" stroke-width="1.5" />
<line x1="317.80" y1="297.30" x2="458.50" y2="297.30" stroke="#000" stroke-width="1.5" />
<line x1="317.80" y1="326.60" x2="458.50" y2="326.60" stroke="#000" stroke-width="1.4" />
<line x1="325" y1="292.4" x2="377" y2="292.4" stroke="#888" stroke-width="0.8" stroke-dasharray="3,4"/>
<line x1="458.50" y1="227.20" x2="458.50" y2="394.80" stroke="#000" stroke-width="1.5" />
<line x1="108.5" y1="311.2" x2="470" y2="311.2" stroke="#000" stroke-width="1.9" stroke-dasharray="32,9.3"/>
<line x1="132.40" y1="36.60" x2="132.40" y2="178.00" stroke="#000" stroke-width="1.7" />
<line x1="459.00" y1="36.00" x2="459.00" y2="227.20" stroke="#000" stroke-width="1.4" />
<line x1="135.00" y1="41.70" x2="457.00" y2="41.70" stroke="#000" stroke-width="1.8" />
<path d="M134.80,40.85 L143.60,40.55 L145.80,40.55 L145.80,42.85 L143.60,42.85 L134.80,42.55 Z" fill="#000"/>
<ellipse cx="0" cy="0" rx="2.42" ry="2.14" fill="#000" transform="translate(143.60,41.70) rotate(180.0)"/>
<path d="M457.00,42.55 L448.20,42.85 L446.00,42.85 L446.00,40.55 L448.20,40.55 L457.00,40.85 Z" fill="#000"/>
<ellipse cx="0" cy="0" rx="2.42" ry="2.14" fill="#000" transform="translate(448.20,41.70) rotate(0.0)"/>
<line x1="276.00" y1="69.70" x2="323.00" y2="69.70" stroke="#000" stroke-width="1.3" />
<path d="M297.10,70.55 L290.70,70.85 L289.10,70.85 L289.10,68.55 L290.70,68.55 L297.10,68.85 Z" fill="#000"/>
<ellipse cx="0" cy="0" rx="2.42" ry="2.14" fill="#000" transform="translate(290.70,69.70) rotate(0.0)"/>
<path d="M303.90,68.85 L310.30,68.55 L311.90,68.55 L311.90,70.85 L310.30,70.85 L303.90,70.55 Z" fill="#000"/>
<ellipse cx="0" cy="0" rx="2.42" ry="2.14" fill="#000" transform="translate(310.30,69.70) rotate(180.0)"/>
<line x1="38.00" y1="91.30" x2="235.00" y2="91.30" stroke="#000" stroke-width="1.4" />
<line x1="38.00" y1="530.70" x2="235.00" y2="530.70" stroke="#000" stroke-width="1.4" />
<line x1="43.30" y1="93.00" x2="43.30" y2="529.00" stroke="#000" stroke-width="1.9" />
<path d="M44.15,94.20 L44.45,103.80 L44.45,106.20 L42.15,106.20 L42.15,103.80 L42.45,94.20 Z" fill="#000"/>
<ellipse cx="0" cy="0" rx="2.42" ry="2.14" fill="#000" transform="translate(43.30,103.80) rotate(-90.0)"/>
<path d="M42.45,527.80 L42.15,518.20 L42.15,515.80 L44.45,515.80 L44.45,518.20 L44.15,527.80 Z" fill="#000"/>
<ellipse cx="0" cy="0" rx="2.42" ry="2.14" fill="#000" transform="translate(43.30,518.20) rotate(90.0)"/>
<line x1="67.50" y1="128.30" x2="190.00" y2="128.30" stroke="#000" stroke-width="1.4" />
<line x1="67.80" y1="493.80" x2="231.00" y2="493.80" stroke="#000" stroke-width="1.4" />
<line x1="72.90" y1="130.00" x2="72.90" y2="492.00" stroke="#000" stroke-width="1.3" />
<path d="M73.75,131.20 L74.05,140.00 L74.05,142.20 L71.75,142.20 L71.75,140.00 L72.05,131.20 Z" fill="#000"/>
<ellipse cx="0" cy="0" rx="2.42" ry="2.14" fill="#000" transform="translate(72.90,140.00) rotate(-90.0)"/>
<path d="M72.05,490.80 L71.75,482.00 L71.75,479.80 L74.05,479.80 L74.05,482.00 L73.75,490.80 Z" fill="#000"/>
<ellipse cx="0" cy="0" rx="2.42" ry="2.14" fill="#000" transform="translate(72.90,482.00) rotate(90.0)"/>
<line x1="92.80" y1="177.50" x2="133.00" y2="177.50" stroke="#000" stroke-width="1.4" />
<line x1="92.60" y1="444.30" x2="134.00" y2="444.30" stroke="#000" stroke-width="1.4" />
<line x1="98.20" y1="179.00" x2="98.20" y2="443.00" stroke="#000" stroke-width="1.3" />
<path d="M99.05,180.20 L99.35,189.00 L99.35,191.20 L97.05,191.20 L97.05,189.00 L97.35,180.20 Z" fill="#000"/>
<ellipse cx="0" cy="0" rx="2.42" ry="2.14" fill="#000" transform="translate(98.20,189.00) rotate(-90.0)"/>
<path d="M97.35,441.80 L97.05,433.00 L97.05,430.80 L99.35,430.80 L99.35,433.00 L99.05,441.80 Z" fill="#000"/>
<ellipse cx="0" cy="0" rx="2.42" ry="2.14" fill="#000" transform="translate(98.20,433.00) rotate(90.0)"/>
<line x1="145.70" y1="117.30" x2="145.70" y2="178.00" stroke="#000" stroke-width="1.5" />
<line x1="166.80" y1="117.30" x2="166.80" y2="178.00" stroke="#000" stroke-width="1.5" />
<line x1="121.20" y1="121.80" x2="192.00" y2="121.80" stroke="#000" stroke-width="1.3" />
<path d="M144.50,122.65 L136.50,122.95 L134.50,122.95 L134.50,120.65 L136.50,120.65 L144.50,120.95 Z" fill="#000"/>
<ellipse cx="0" cy="0" rx="2.42" ry="2.14" fill="#000" transform="translate(136.50,121.80) rotate(0.0)"/>
<path d="M168.00,120.95 L176.00,120.65 L178.00,120.65 L178.00,122.95 L176.00,122.95 L168.00,122.65 Z" fill="#000"/>
<ellipse cx="0" cy="0" rx="2.42" ry="2.14" fill="#000" transform="translate(176.00,121.80) rotate(180.0)"/>
<line x1="140.40" y1="145.50" x2="140.40" y2="178.00" stroke="#000" stroke-width="1.5" />
<line x1="151.00" y1="145.50" x2="151.00" y2="178.00" stroke="#000" stroke-width="1.5" />
<line x1="110.90" y1="150.50" x2="176.10" y2="150.50" stroke="#000" stroke-width="1.3" />
<path d="M139.20,151.35 L129.60,151.65 L127.20,151.65 L127.20,149.35 L129.60,149.35 L139.20,149.65 Z" fill="#000"/>
<ellipse cx="0" cy="0" rx="2.42" ry="2.14" fill="#000" transform="translate(129.60,150.50) rotate(0.0)"/>
<path d="M152.20,149.65 L161.80,149.35 L164.20,149.35 L164.20,151.65 L161.80,151.65 L152.20,151.35 Z" fill="#000"/>
<ellipse cx="0" cy="0" rx="2.42" ry="2.14" fill="#000" transform="translate(161.80,150.50) rotate(180.0)"/>
<line x1="100.30" y1="170.40" x2="170.80" y2="170.40" stroke="#000" stroke-width="1.3" />
<path d="M131.20,171.25 L123.20,171.55 L121.20,171.55 L121.20,169.25 L123.20,169.25 L131.20,169.55 Z" fill="#000"/>
<ellipse cx="0" cy="0" rx="2.42" ry="2.14" fill="#000" transform="translate(123.20,170.40) rotate(0.0)"/>
<path d="M146.90,169.55 L155.70,169.25 L157.90,169.25 L157.90,171.55 L155.70,171.55 L146.90,171.25 Z" fill="#000"/>
<ellipse cx="0" cy="0" rx="2.42" ry="2.14" fill="#000" transform="translate(155.70,170.40) rotate(180.0)"/>
<line x1="137.00" y1="280.20" x2="269.50" y2="280.20" stroke="#000" stroke-width="1.4" />
<path d="M138.20,279.35 L145.40,279.05 L147.20,279.05 L147.20,281.35 L145.40,281.35 L138.20,281.05 Z" fill="#000"/>
<ellipse cx="0" cy="0" rx="2.42" ry="2.14" fill="#000" transform="translate(145.40,280.20) rotate(180.0)"/>
<path d="M268.30,281.05 L261.10,281.35 L259.30,281.35 L259.30,279.05 L261.10,279.05 L268.30,279.35 Z" fill="#000"/>
<ellipse cx="0" cy="0" rx="2.42" ry="2.14" fill="#000" transform="translate(261.10,280.20) rotate(0.0)"/>
<line x1="255.00" y1="280.10" x2="322.00" y2="280.10" stroke="#000" stroke-width="1.4" />
<path d="M272.20,280.95 L264.20,281.25 L262.20,281.25 L262.20,278.95 L264.20,278.95 L272.20,279.25 Z" fill="#000"/>
<ellipse cx="0" cy="0" rx="2.42" ry="2.14" fill="#000" transform="translate(264.20,280.10) rotate(0.0)"/>
<path d="M303.40,279.25 L311.40,278.95 L313.40,278.95 L313.40,281.25 L311.40,281.25 L303.40,280.95 Z" fill="#000"/>
<ellipse cx="0" cy="0" rx="2.42" ry="2.14" fill="#000" transform="translate(311.40,280.10) rotate(180.0)"/>
<line x1="294.00" y1="239.00" x2="294.00" y2="383.00" stroke="#000" stroke-width="1.4" />
<path d="M294.85,240.20 L295.15,247.40 L295.15,249.20 L292.85,249.20 L292.85,247.40 L293.15,240.20 Z" fill="#000"/>
<ellipse cx="0" cy="0" rx="2.42" ry="2.14" fill="#000" transform="translate(294.00,247.40) rotate(-90.0)"/>
<path d="M293.15,381.80 L292.85,374.60 L292.85,372.80 L295.15,372.80 L295.15,374.60 L294.85,381.80 Z" fill="#000"/>
<ellipse cx="0" cy="0" rx="2.42" ry="2.14" fill="#000" transform="translate(294.00,374.60) rotate(90.0)"/>
<line x1="322.00" y1="351.30" x2="455.00" y2="351.30" stroke="#000" stroke-width="1.4" />
<path d="M323.20,350.45 L330.40,350.15 L332.20,350.15 L332.20,352.45 L330.40,352.45 L323.20,352.15 Z" fill="#000"/>
<ellipse cx="0" cy="0" rx="2.42" ry="2.14" fill="#000" transform="translate(330.40,351.30) rotate(180.0)"/>
<path d="M453.80,352.15 L446.60,352.45 L444.80,352.45 L444.80,350.15 L446.60,350.15 L453.80,350.45 Z" fill="#000"/>
<ellipse cx="0" cy="0" rx="2.42" ry="2.14" fill="#000" transform="translate(446.60,351.30) rotate(0.0)"/>
<line x1="451.60" y1="227.20" x2="501.00" y2="227.20" stroke="#000" stroke-width="1.4" />
<line x1="431.60" y1="394.80" x2="501.00" y2="394.80" stroke="#000" stroke-width="1.5" />
<line x1="495.60" y1="229.00" x2="495.60" y2="393.00" stroke="#000" stroke-width="1.4" />
<path d="M496.45,228.40 L496.75,237.20 L496.75,239.40 L494.45,239.40 L494.45,237.20 L494.75,228.40 Z" fill="#000"/>
<ellipse cx="0" cy="0" rx="2.42" ry="2.14" fill="#000" transform="translate(495.60,237.20) rotate(-90.0)"/>
<path d="M494.75,393.60 L494.45,384.80 L494.45,382.60 L496.75,382.60 L496.75,384.80 L496.45,393.60 Z" fill="#000"/>
<ellipse cx="0" cy="0" rx="2.42" ry="2.14" fill="#000" transform="translate(495.60,384.80) rotate(90.0)"/>
<line x1="429.40" y1="190.90" x2="534.30" y2="190.90" stroke="#000" stroke-width="1.4" />
<line x1="441.70" y1="431.00" x2="534.30" y2="431.00" stroke="#000" stroke-width="1.4" />
<line x1="528.70" y1="193.00" x2="528.70" y2="429.00" stroke="#000" stroke-width="1.3" />
<path d="M529.55,194.20 L529.85,203.00 L529.85,205.20 L527.55,205.20 L527.55,203.00 L527.85,194.20 Z" fill="#000"/>
<ellipse cx="0" cy="0" rx="2.42" ry="2.14" fill="#000" transform="translate(528.70,203.00) rotate(-90.0)"/>
<path d="M527.85,427.80 L527.55,419.00 L527.55,416.80 L529.85,416.80 L529.85,419.00 L529.55,427.80 Z" fill="#000"/>
<ellipse cx="0" cy="0" rx="2.42" ry="2.14" fill="#000" transform="translate(528.70,419.00) rotate(90.0)"/>
<line x1="396.00" y1="117.80" x2="560.20" y2="117.80" stroke="#000" stroke-width="1.4" />
<line x1="427.00" y1="504.70" x2="560.20" y2="504.70" stroke="#000" stroke-width="1.4" />
<line x1="555.20" y1="119.50" x2="555.20" y2="503.00" stroke="#000" stroke-width="1.9" />
<path d="M556.05,120.70 L556.35,130.30 L556.35,132.70 L554.05,132.70 L554.05,130.30 L554.35,120.70 Z" fill="#000"/>
<ellipse cx="0" cy="0" rx="2.42" ry="2.14" fill="#000" transform="translate(555.20,130.30) rotate(-90.0)"/>
<path d="M554.35,501.80 L554.05,492.20 L554.05,489.80 L556.35,489.80 L556.35,492.20 L556.05,501.80 Z" fill="#000"/>
<ellipse cx="0" cy="0" rx="2.42" ry="2.14" fill="#000" transform="translate(555.20,492.20) rotate(90.0)"/>
<text font-family="Liberation Serif, serif" font-size="19.54" transform="translate(291.93,41.00) scale(0.658,1)" stroke="#000" stroke-width="0.53">L</text>
<text font-family="Liberation Serif, serif" font-size="19.92" transform="translate(314.49,68.12) scale(1.068,1)">δ</text>
<text font-family="Liberation Serif, serif" font-size="18.17" transform="translate(147.27,119.20) scale(0.634,1)" stroke="#000" stroke-width="0.55">L</text>
<text font-family="Liberation Serif, serif" font-size="10.94" transform="translate(155.93,119.80) scale(1.224,1)" stroke="#000" stroke-width="0.29">4</text>
<text font-family="Liberation Serif, serif" font-size="18.78" transform="translate(113.53,150.00) scale(0.685,1)" stroke="#000" stroke-width="0.51">L</text>
<text font-family="Liberation Serif, serif" font-size="11.90" transform="translate(121.01,149.49) scale(1.150,1)" stroke="#000" stroke-width="0.30">5</text>
<text font-family="Liberation Serif, serif" font-size="18.32" transform="translate(102.90,169.00) scale(0.754,1)" stroke="#000" stroke-width="0.46">L</text>
<text font-family="Liberation Serif, serif" font-size="12.82" transform="translate(112.65,168.68) scale(0.890,1)" stroke="#000" stroke-width="0.39">3</text>
<text font-family="Liberation Serif, serif" font-size="19.24" transform="translate(188.44,277.50) scale(0.639,1)" stroke="#000" stroke-width="0.55">L</text>
<text font-family="Liberation Serif, serif" font-size="14.09" transform="translate(197.32,277.50) scale(0.627,1)" stroke="#000" stroke-width="0.56">1</text>
<text font-family="Liberation Serif, serif" font-size="17.86" transform="translate(278.68,278.10) scale(0.623,1)" stroke="#000" stroke-width="0.56">L</text>
<text font-family="Liberation Serif, serif" font-size="10.58" transform="translate(284.78,277.70) scale(1.353,1)" stroke="#000" stroke-width="0.26">6</text>
<text font-family="Liberation Serif, serif" font-size="20.61" transform="translate(384.40,350.90) scale(0.661,1)" stroke="#000" stroke-width="0.53">L</text>
<text font-family="Liberation Serif, serif" font-size="16.01" transform="translate(395.45,350.90) scale(0.781,1)" stroke="#000" stroke-width="0.45">2</text>
<text font-family="Liberation Serif, serif" font-size="21.53" transform="translate(41.90,315.26) rotate(-90) scale(0.570,1)" stroke="#000" stroke-width="0.61">D</text>
<text font-family="Liberation Serif, serif" font-size="14.55" transform="translate(41.60,303.60) rotate(-90) scale(0.783,1)" stroke="#000" stroke-width="0.45">1</text>
<text font-family="Liberation Serif, serif" font-size="23.05" transform="translate(72.00,315.34) rotate(-90) scale(0.512,1)" stroke="#000" stroke-width="0.68">D</text>
<text font-family="Liberation Serif, serif" font-size="14.95" transform="translate(71.10,303.89) rotate(-90) scale(0.752,1)" stroke="#000" stroke-width="0.47">2</text>
<text font-family="Liberation Serif, serif" font-size="22.60" transform="translate(97.20,315.34) rotate(-90) scale(0.523,1)" stroke="#000" stroke-width="0.67">D</text>
<text font-family="Liberation Serif, serif" font-size="14.75" transform="translate(95.87,303.70) rotate(-90) scale(0.707,1)" stroke="#000" stroke-width="0.49">3</text>
<text font-family="Liberation Serif, serif" font-size="20.61" transform="translate(292.80,320.36) rotate(-90) scale(0.595,1)" stroke="#000" stroke-width="0.59">D</text>
<text font-family="Liberation Serif, serif" font-size="14.44" transform="translate(293.40,309.62) rotate(-90) scale(0.763,1)" stroke="#000" stroke-width="0.46">4</text>
<text font-family="Liberation Serif, serif" font-size="21.07" transform="translate(493.80,315.14) rotate(-90) scale(0.561,1)" stroke="#000" stroke-width="0.62">D</text>
<text font-family="Liberation Serif, serif" font-size="14.01" transform="translate(493.67,305.39) rotate(-90) scale(0.853,1)" stroke="#000" stroke-width="0.41">5</text>
<text font-family="Liberation Serif, serif" font-size="21.53" transform="translate(527.30,316.56) rotate(-90) scale(0.584,1)" stroke="#000" stroke-width="0.60">D</text>
<text font-family="Liberation Serif, serif" font-size="14.61" transform="translate(527.17,305.53) rotate(-90) scale(0.852,1)" stroke="#000" stroke-width="0.41">6</text>
<text font-family="Liberation Serif, serif" font-size="21.53" transform="translate(552.90,316.36) rotate(-90) scale(0.584,1)" stroke="#000" stroke-width="0.60">D</text>
<text font-family="Liberation Serif, serif" font-size="15.11" transform="translate(552.90,305.82) rotate(-90) scale(0.819,1)" stroke="#000" stroke-width="0.43">7</text>
<path d="M686.34,296.60 L677.1,296.60 L677.1,326.20 L686.56,326.20 A57.2,57.2 0 1 0 782.84,271.26 L787.66,263.25 L762.29,248.00 L757.47,256.02 A57.2,57.2 0 0 0 686.34,296.60 Z" fill="none" stroke="#000" stroke-width="1.5"/>
<line x1="669" y1="311.0" x2="810" y2="311.0" stroke="#000" stroke-width="1.8" stroke-dasharray="17,7"/>
<line x1="741.7" y1="233.4" x2="741.7" y2="373" stroke="#000" stroke-width="1.2" stroke-dasharray="20,4"/>
<line x1="741.7" y1="311.0" x2="789.08" y2="232.14" stroke="#000" stroke-width="1.2" stroke-dasharray="11,5"/>
<line x1="692.30" y1="336.10" x2="791.00" y2="285.80" stroke="#000" stroke-width="1.3" />
<path d="M692.98,334.80 L700.69,330.53 L702.65,329.54 L703.69,331.59 L701.73,332.58 L693.76,336.31 Z" fill="#000"/>
<ellipse cx="0" cy="0" rx="2.42" ry="2.14" fill="#000" transform="translate(701.21,331.56) rotate(153.0)"/>
<path d="M790.32,287.10 L782.61,291.37 L780.65,292.36 L779.61,290.31 L781.57,289.32 L789.54,285.59 Z" fill="#000"/>
<ellipse cx="0" cy="0" rx="2.42" ry="2.14" fill="#000" transform="translate(782.09,290.34) rotate(-27.0)"/>
<path d="M701.56,308.90 A40.2,40.2 0 0 1 759.32,274.87" fill="none" stroke="#000" stroke-width="1.3"/>
<path d="M700.65,307.74 L699.99,300.56 L699.90,298.77 L702.19,298.65 L702.28,300.45 L702.34,307.66 Z" fill="#000"/>
<ellipse cx="0" cy="0" rx="2.42" ry="2.14" fill="#000" transform="translate(701.14,300.51) rotate(87.1)"/>
<path d="M757.87,275.11 L751.27,272.22 L749.65,271.43 L750.66,269.36 L752.28,270.15 L758.62,273.58 Z" fill="#000"/>
<ellipse cx="0" cy="0" rx="2.42" ry="2.14" fill="#000" transform="translate(751.77,271.19) rotate(26.0)"/>
<line x1="655.30" y1="296.60" x2="677.10" y2="296.60" stroke="#000" stroke-width="1.2" />
<line x1="655.30" y1="326.20" x2="677.10" y2="326.20" stroke="#000" stroke-width="1.2" />
<line x1="660.80" y1="241.00" x2="660.80" y2="352.00" stroke="#000" stroke-width="1.3" />
<path d="M659.75,295.40 L659.45,287.40 L659.45,285.40 L661.75,285.40 L661.75,287.40 L661.45,295.40 Z" fill="#000"/>
<ellipse cx="0" cy="0" rx="2.42" ry="2.14" fill="#000" transform="translate(660.60,287.40) rotate(90.0)"/>
<path d="M661.45,327.40 L661.75,335.40 L661.75,337.40 L659.45,337.40 L659.45,335.40 L659.75,327.40 Z" fill="#000"/>
<ellipse cx="0" cy="0" rx="2.42" ry="2.14" fill="#000" transform="translate(660.60,335.40) rotate(-90.0)"/>
<line x1="677.10" y1="326.20" x2="677.10" y2="401.00" stroke="#000" stroke-width="1.4" />
<line x1="799.30" y1="313.00" x2="799.30" y2="401.00" stroke="#000" stroke-width="1.4" />
<line x1="679.00" y1="396.90" x2="797.50" y2="396.90" stroke="#000" stroke-width="1.3" />
<path d="M680.20,396.05 L689.00,395.75 L691.20,395.75 L691.20,398.05 L689.00,398.05 L680.20,397.75 Z" fill="#000"/>
<ellipse cx="0" cy="0" rx="2.42" ry="2.14" fill="#000" transform="translate(689.00,396.90) rotate(180.0)"/>
<path d="M796.30,397.75 L787.50,398.05 L785.30,398.05 L785.30,395.75 L787.50,395.75 L796.30,396.05 Z" fill="#000"/>
<ellipse cx="0" cy="0" rx="2.42" ry="2.14" fill="#000" transform="translate(787.50,396.90) rotate(0.0)"/>
<text font-family="Liberation Serif, serif" font-size="19.60" transform="translate(722.02,394.70) scale(0.922,1)" stroke="#000" stroke-width="0.16">h</text>
<text font-family="Liberation Serif, serif" font-size="6.5" x="733" y="384" fill="#999">+0.2</text>
<text font-family="Liberation Serif, serif" font-size="6.5" x="737" y="393" fill="#999">0</text>
<text font-family="Liberation Serif, serif" font-size="19.97" transform="translate(660.22,283.87) rotate(-90) scale(1.143,1)" stroke="#000" stroke-width="0.09">cJS9</text>
<text font-family="Liberation Serif, serif" font-size="16" transform="translate(707.6,285.4) rotate(-35) scale(1.08,1)" stroke="#000" stroke-width="0.1">120°</text>
<text font-family="Liberation Serif, serif" font-size="16" transform="translate(724.7,317.8) rotate(-27) scale(0.78,1)" stroke="#000" stroke-width="0.3">117</text>
<ellipse cx="716.1" cy="315.7" rx="5.0" ry="5.6" fill="none" stroke="#000" stroke-width="1.2"/>
<line x1="716.40" y1="307.30" x2="716.40" y2="322.40" stroke="#000" stroke-width="1.5" />
</svg>
</body></html>
